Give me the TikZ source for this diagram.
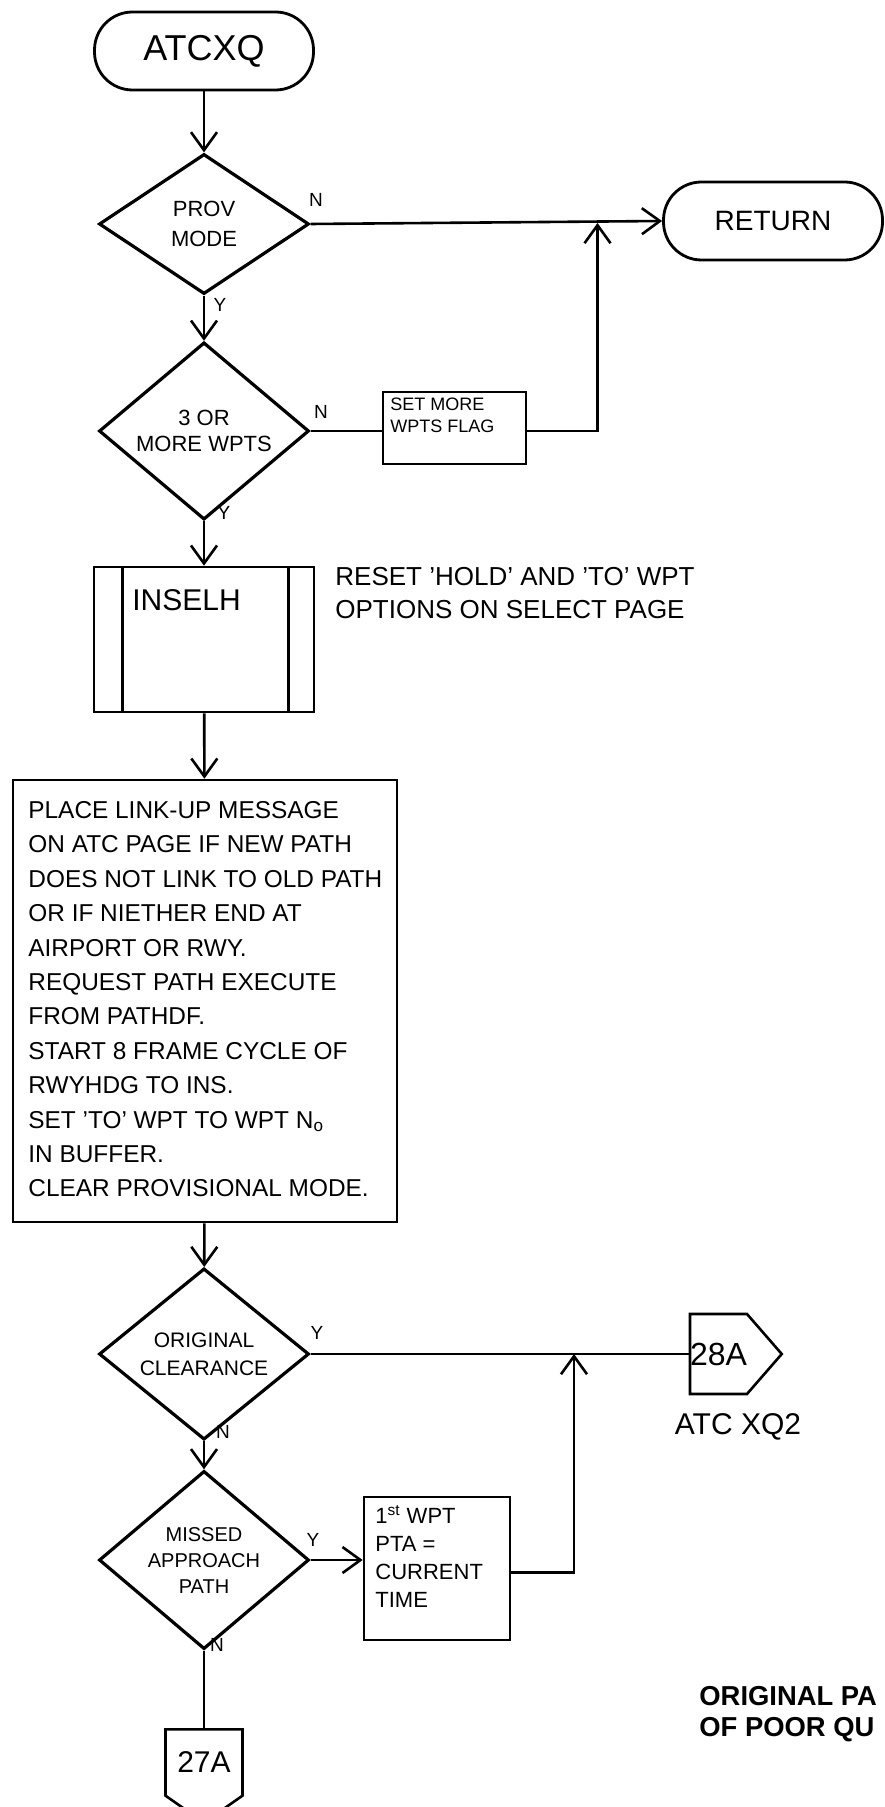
\documentclass[tikz,border=0pt]{standalone}
\usepackage{fontspec}
\setmainfont{Liberation Sans}
\usetikzlibrary{shapes.geometric,shapes.symbols,arrows.meta}
\newcommand{\fs}[2]{\fontsize{#1}{#2}\selectfont}
\begin{document}
\begin{tikzpicture}[x=0.5pt,y=-0.5pt,
  term/.style={draw,line width=1.4pt,rounded corners=19pt,inner sep=0pt,
    minimum width=109.5pt,minimum height=39pt},
  decision/.style={draw,diamond,line width=1.6pt,inner sep=0pt,align=center,
    minimum width=105pt,minimum height=70pt},
  procbox/.style={draw,rectangle,line width=1.3pt,inner sep=0pt},
  offpage/.style={draw,signal,line width=1.3pt,inner sep=0pt},
  conn/.style={line width=1.3pt},
  arr/.style={conn,-{Straight Barb[length=9pt,width=13pt]}},
  yn/.style={font=\fs{9.5}{10}},
  txt/.style={inner sep=0pt,align=left,anchor=north west}
]
\useasboundingbox (0,0) rectangle (884,1807);

% entry and exit terminals
\node[term,font=\fs{18}{20}] (start) at (204,51) {ATCXQ\hspace{16pt}};
\node[term,font=\fs{14}{16}] (ret) at (773,221) {RETURN\hspace{8pt}};

% first two tests
\node[decision,font=\fs{11}{15}] (d1) at (204,224) {PROV\\MODE};
\node[decision,font=\fs{11}{13}] (d2) at (204,431) {3 OR\\MORE WPTS};
\node[procbox,minimum width=71.5pt,minimum height=36pt] (setbox) at (454.5,428) {};
\node[txt,font=\fs{9}{11}] (settxt) at (390,398) {SET MORE\\WPTS FLAG};
\coordinate (j1) at (597.5,223);

% INSELH predefined process
\node[procbox,minimum width=110pt,minimum height=72.5pt] (inselh) at (204,639.5) {};
\draw[line width=1.3pt] ([xshift=15pt]inselh.north west) -- ([xshift=15pt]inselh.south west);
\draw[line width=1.3pt] ([xshift=-13.5pt]inselh.north east) -- ([xshift=-13.5pt]inselh.south east);
\node[inner sep=0pt,anchor=west,font=\fs{15}{17}] (inseltxt) at (132,600) {INSELH};
\node[txt,font=\fs{13}{16.5}] (note) at (335,567)
  {RESET 'HOLD' AND 'TO' WPT\\OPTIONS ON SELECT PAGE};

% main processing block
\node[procbox,minimum width=192pt,minimum height=221pt] (big) at (205,1001) {};
\node[txt,font=\fs{12.2}{17.2}] (bigtxt) at (28,801)
  {PLACE LINK-UP MESSAGE\\
   ON ATC PAGE IF NEW PATH\\
   DOES NOT LINK TO OLD PATH\\
   OR IF NIETHER END AT\\
   AIRPORT OR RWY.\\
   REQUEST PATH EXECUTE\\
   FROM PATHDF.\\
   START 8 FRAME CYCLE OF\\
   RWYHDG TO INS.\\
   SET 'TO' WPT TO WPT N\textsubscript{o}\\
   IN BUFFER.\\
   CLEAR PROVISIONAL MODE.};

% clearance tests
\node[decision,font=\fs{10.5}{14}] (d3) at (204,1354) {ORIGINAL\\CLEARANCE};
\node[offpage,signal to=east,signal pointer angle=98,
  minimum width=42.5pt,minimum height=40pt,font=\fs{16}{18}] (c28) at (718.5,1354) {28A\hspace{4pt}};
\node[font=\fs{15}{17},inner sep=0pt] (xq2) at (738,1427) {ATC XQ2};
\coordinate (j2) at (574,1354);

\node[decision,font=\fs{10}{13}] (d4) at (204,1560) {MISSED\\APPROACH\\PATH};
\node[procbox,minimum width=73pt,minimum height=71.5pt] (pta) at (437,1568.5) {};
\node[txt,font=\fs{11}{14}] (ptatxt) at (375,1505)
  {1\textsuperscript{st} WPT\\PTA =\\CURRENT\\TIME};
\node[offpage,signal to=south,signal pointer angle=110,
  minimum width=38.5pt,minimum height=42.5pt,font=\fs{15}{17}] (c27) at (204,1762.5) {27A};

% stamp
\node[txt,font=\bfseries\fs{13.7}{15.5}] (stamp) at (699,1686)
  {ORIGINAL PA\\OF POOR QU};

% flow
\draw[arr] (start) -- (d1);
\draw[arr] (d1.east) -- (ret.west);
\draw[arr] (d1) -- (d2);
\draw[conn] (d2.east) -- (d2.east -| setbox.west);
\draw[arr] (d2.east -| setbox.east) -| (j1);
\draw[arr] (d2) -- (inselh);
\draw[arr] (inselh) -- (big);
\draw[arr] (big) -- (d3);
\draw[conn] (d3.east) -- (c28.west);
\draw[arr] (d3) -- (d4);
\draw[arr] (d4.east) -- (d4.east -| pta.west);
\draw[arr] ([yshift=-2pt]pta.east) -| (j2);
\draw[conn] (d4.south) -- (c27.north);

% branch labels
\node[yn] (n1) at (316,200) {N};
\node[yn] (y1) at (220,305) {Y};
\node[yn] (n2) at (321,412) {N};
\node[yn] (y2) at (224,513) {Y};
\node[yn] (y3) at (317,1333) {Y};
\node[yn] (n3) at (223,1432) {N};
\node[yn] (y4) at (313,1540) {Y};
\node[yn] (n4) at (217,1645) {N};
\end{tikzpicture}
\end{document}
